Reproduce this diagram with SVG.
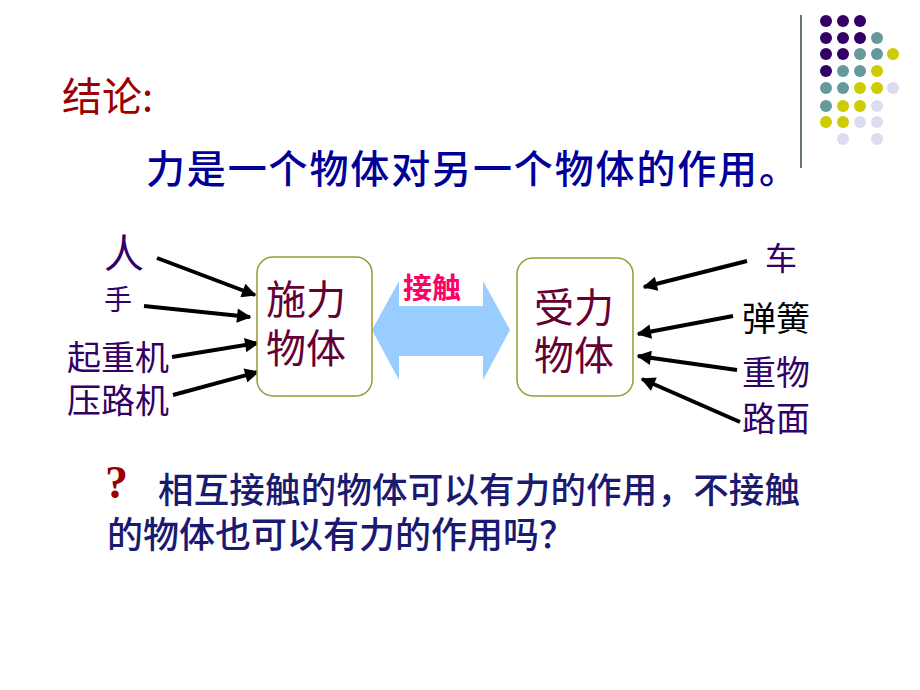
<svg xmlns="http://www.w3.org/2000/svg" width="920" height="690" viewBox="0 0 920 690">
<defs>
<style>
.cjk{font-family:"Noto Sans CJK SC","Noto Sans",sans-serif}
.lbl{fill:#330066}
.box{fill:#ffffff;stroke:#999933;stroke-width:1.5}
.boxt{fill:#660033;font-size:40px}
.con{stroke:#000;stroke-width:4;fill:none;marker-end:url(#ah)}
.p{fill:#330066}.t{fill:#669999}.y{fill:#cccc00}.l{fill:#dcdcf0}
</style>
<marker id="ah" viewBox="0 0 10 10" refX="9" refY="5" markerWidth="4" markerHeight="3.6" orient="auto" markerUnits="strokeWidth">
<path d="M0,0 L10,5 L0,10 z" fill="#000"/>
</marker>
</defs>
<rect width="920" height="690" fill="#ffffff"/>
<g id="decor">
<line x1="801" y1="15" x2="801" y2="168" stroke="#667766" stroke-width="2"/>
<circle class="p" cx="826" cy="21" r="6"/><circle class="p" cx="843" cy="21" r="6"/><circle class="p" cx="860" cy="21" r="6"/>
<circle class="p" cx="826" cy="38" r="6"/><circle class="p" cx="843" cy="38" r="6"/><circle class="p" cx="860" cy="38" r="6"/><circle class="t" cx="877" cy="38" r="6"/>
<circle class="p" cx="826" cy="54" r="6"/><circle class="p" cx="843" cy="54" r="6"/><circle class="t" cx="860" cy="54" r="6"/><circle class="t" cx="877" cy="54" r="6"/><circle class="y" cx="893" cy="54" r="6"/>
<circle class="p" cx="826" cy="71" r="6"/><circle class="t" cx="843" cy="71" r="6"/><circle class="t" cx="860" cy="71" r="6"/><circle class="y" cx="877" cy="71" r="6"/>
<circle class="t" cx="826" cy="88" r="6"/><circle class="t" cx="843" cy="88" r="6"/><circle class="y" cx="860" cy="88" r="6"/><circle class="y" cx="877" cy="88" r="6"/><circle class="l" cx="893" cy="88" r="6"/>
<circle class="t" cx="826" cy="106" r="6"/><circle class="y" cx="843" cy="106" r="6"/><circle class="y" cx="860" cy="106" r="6"/><circle class="l" cx="877" cy="106" r="6"/>
<circle class="y" cx="826" cy="122" r="6"/><circle class="y" cx="843" cy="122" r="6"/><circle class="l" cx="860" cy="122" r="6"/><circle class="l" cx="877" cy="122" r="6"/>
<circle class="l" cx="843" cy="139" r="6"/><circle class="l" cx="877" cy="139" r="6"/>
</g>
<g id="title">
<text class="cjk" x="62" y="111" font-size="40" fill="#990000">结论:</text>
<text class="cjk" x="146" y="183" font-size="39" font-weight="500" fill="#000099" textLength="652" lengthAdjust="spacing">力是一个物体对另一个物体的作用。</text>
</g>
<g id="connectors">
<line class="con" x1="157" y1="258" x2="255" y2="295"/>
<line class="con" x1="144" y1="306" x2="250" y2="317"/>
<line class="con" x1="172" y1="357" x2="258" y2="343"/>
<line class="con" x1="173" y1="395" x2="258" y2="372"/>
<line class="con" x1="747" y1="261" x2="644" y2="287"/>
<line class="con" x1="733" y1="316" x2="638" y2="334"/>
<line class="con" x1="737" y1="370" x2="638" y2="356"/>
<line class="con" x1="740" y1="422" x2="642" y2="379"/>
</g>
<g id="contact">
<polygon points="372,330 399,281 399,306 483,306 483,281 510,330 483,380 483,356 399,356 399,380" fill="#99ccff"/>
<text class="cjk" x="403" y="299" font-size="29" font-weight="bold" fill="#ff0066">接触</text>
</g>
<g id="node-exert">
<rect class="box" x="257" y="257" width="115" height="139" rx="16"/>
<text class="cjk boxt" x="266" y="314">施力</text>
<text class="cjk boxt" x="266" y="363">物体</text>
</g>
<g id="node-receive">
<rect class="box" x="517" y="258" width="116" height="138" rx="16"/>
<text class="cjk boxt" x="534" y="322">受力</text>
<text class="cjk boxt" x="534" y="370">物体</text>
</g>
<g id="node-ren"><text class="cjk lbl" x="104" y="268" font-size="40">人</text></g>
<g id="node-shou"><text class="cjk lbl" x="104" y="310" font-size="28">手</text></g>
<g id="node-qizhongji"><text class="cjk lbl" x="67" y="370" font-size="34">起重机</text></g>
<g id="node-yaluji"><text class="cjk lbl" x="67" y="413" font-size="34">压路机</text></g>
<g id="node-che"><text class="cjk lbl" x="765" y="270" font-size="32">车</text></g>
<g id="node-tanhuang"><text class="cjk" x="742" y="331" font-size="34" fill="#000">弹簧</text></g>
<g id="node-zhongwu"><text class="cjk lbl" x="742" y="385" font-size="34">重物</text></g>
<g id="node-lumian"><text class="cjk lbl" x="742" y="431" font-size="34">路面</text></g>
<g id="question">
<text x="105" y="498" font-family="Liberation Serif, serif" font-weight="bold" font-size="46" fill="#990000">?</text>
<text class="cjk" x="158" y="503" font-size="35.5" font-weight="500" fill="#1a1a70" textLength="642" lengthAdjust="spacing">相互接触的物体可以有力的作用，不接触</text>
<text class="cjk" x="107" y="548" font-size="36" font-weight="500" fill="#1a1a70">的物体也可以有力的作用吗？</text>
</g>
</svg>
